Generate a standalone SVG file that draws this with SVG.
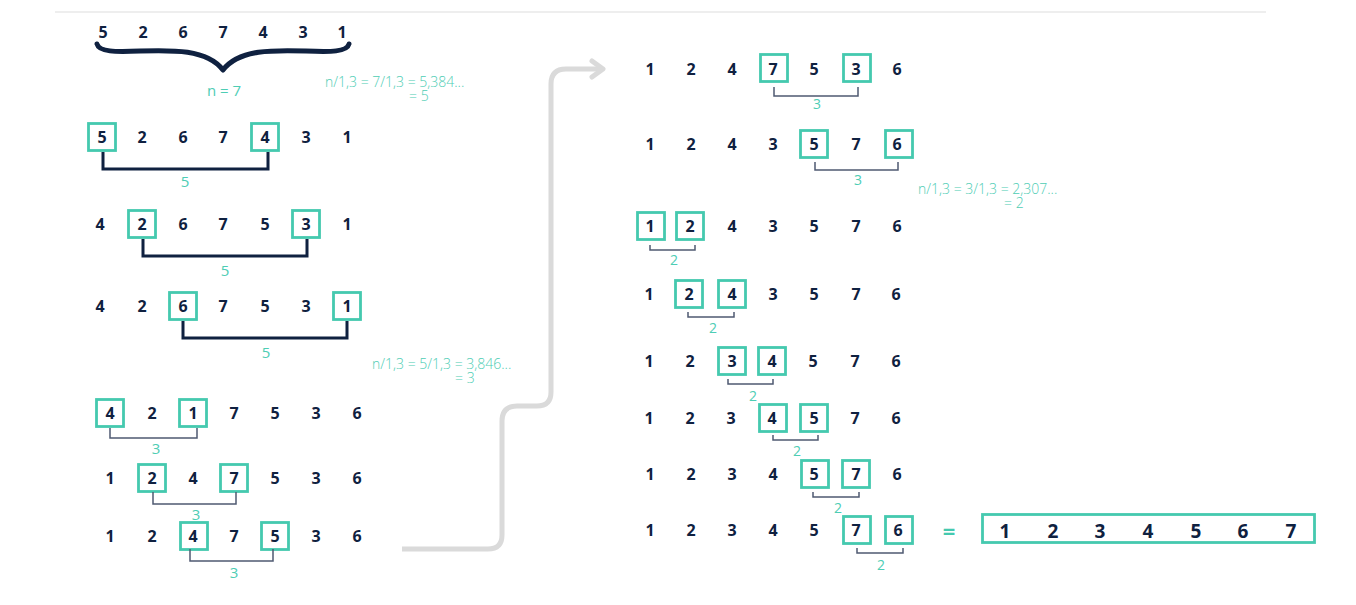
<svg xmlns="http://www.w3.org/2000/svg" width="1356" height="605" viewBox="0 0 1356 605">
<style>
.d{font-family:"Open Sans","Liberation Sans",sans-serif;font-weight:700;font-size:16px;fill:#0f2140;text-anchor:middle}
.r{font-family:"Open Sans","Liberation Sans",sans-serif;font-weight:700;font-size:19px;fill:#0f2140;text-anchor:middle}
.bx{fill:none;stroke:#45c9af;stroke-width:2.8}
.tk{fill:none;stroke:#0f2140;stroke-width:3}
.tn{fill:none;stroke:#4f5a72;stroke-width:1.5}
.l{font-family:"Open Sans","Liberation Sans",sans-serif;font-weight:400;font-size:15px;fill:#4ecdb4;text-anchor:middle}
.ls{font-family:"Open Sans","Liberation Sans",sans-serif;font-weight:400;font-size:14px;fill:#4ecdb4;text-anchor:middle}
.f{font-family:"Open Sans","Liberation Sans",sans-serif;font-weight:300;font-size:14px;fill:#4ecdb4}
</style>
<rect width="1356" height="605" fill="#ffffff"/>
<line x1="55" y1="12" x2="1266" y2="12" stroke="#dddddd" stroke-width="1"/>

<g id="row0">
<text class="d" x="103" y="38">5</text><text class="d" x="143" y="38">2</text><text class="d" x="183" y="38">6</text><text class="d" x="223" y="38">7</text><text class="d" x="263" y="38">4</text><text class="d" x="303" y="38">3</text><text class="d" x="342" y="38">1</text>
<path d="M97,44 C99,52 115,52 140,51 C172,50 207,49 223,70 C239,49 274,50 306,51 C331,52 347,52 349,44" fill="none" stroke="#0f2140" stroke-width="5" stroke-linecap="round" stroke-linejoin="round"/>
<text class="l" x="224" y="96">n = 7</text>
</g>
<g id="formula1">
<text class="f" x="325" y="87">n/1,3 = 7/1,3 = 5,384...</text>
<text class="f" x="409" y="101">= 5</text>
</g>

<g id="row1">
<text class="d" x="102" y="143">5</text><text class="d" x="142" y="143">2</text><text class="d" x="183" y="143">6</text><text class="d" x="223" y="143">7</text><text class="d" x="265" y="143">4</text><text class="d" x="306" y="143">3</text><text class="d" x="347" y="143">1</text>
<rect class="bx" x="88.5" y="123.5" width="27" height="27"/><rect class="bx" x="251.5" y="123.5" width="27" height="27"/>
<path class="tk" d="M103,152 V169 H268 V152"/>
<text class="l" x="185" y="187">5</text>
</g>

<g id="row2">
<text class="d" x="100" y="230">4</text><text class="d" x="142" y="230">2</text><text class="d" x="183" y="230">6</text><text class="d" x="223" y="230">7</text><text class="d" x="265" y="230">5</text><text class="d" x="306" y="230">3</text><text class="d" x="347" y="230">1</text>
<rect class="bx" x="128.5" y="210.5" width="27" height="27"/><rect class="bx" x="292.5" y="210.5" width="27" height="27"/>
<path class="tk" d="M143,239 V256 H307 V239"/>
<text class="l" x="225" y="276">5</text>
</g>

<g id="row3">
<text class="d" x="100" y="312">4</text><text class="d" x="142" y="312">2</text><text class="d" x="183" y="312">6</text><text class="d" x="223" y="312">7</text><text class="d" x="265" y="312">5</text><text class="d" x="306" y="312">3</text><text class="d" x="347" y="312">1</text>
<rect class="bx" x="169.5" y="292.5" width="27" height="27"/><rect class="bx" x="333.5" y="292.5" width="27" height="27"/>
<path class="tk" d="M183,321 V338 H347 V321"/>
<text class="l" x="266" y="358">5</text>
</g>
<g id="formula2">
<text class="f" x="372" y="369">n/1,3 = 5/1,3 = 3,846...</text>
<text class="f" x="455" y="383">= 3</text>
</g>

<g id="row4">
<text class="d" x="110" y="419">4</text><text class="d" x="152" y="419">2</text><text class="d" x="193" y="419">1</text><text class="d" x="234" y="419">7</text><text class="d" x="275" y="419">5</text><text class="d" x="316" y="419">3</text><text class="d" x="357" y="419">6</text>
<rect class="bx" x="96.5" y="399.5" width="27" height="27"/><rect class="bx" x="179.5" y="399.5" width="27" height="27"/>
<path class="tn" d="M110,428 V438 H197 V428"/>
<text class="l" x="156" y="454">3</text>
</g>

<g id="row5">
<text class="d" x="110" y="484">1</text><text class="d" x="152" y="484">2</text><text class="d" x="193" y="484">4</text><text class="d" x="234" y="484">7</text><text class="d" x="275" y="484">5</text><text class="d" x="316" y="484">3</text><text class="d" x="357" y="484">6</text>
<rect class="bx" x="138.5" y="464.5" width="27" height="27"/><rect class="bx" x="220.5" y="464.5" width="27" height="27"/>
<path class="tn" d="M153,492 V504 H236 V492"/>
<text class="l" x="196" y="520">3</text>
</g>

<g id="row6">
<text class="d" x="110" y="542">1</text><text class="d" x="152" y="542">2</text><text class="d" x="193" y="542">4</text><text class="d" x="234" y="542">7</text><text class="d" x="275" y="542">5</text><text class="d" x="316" y="542">3</text><text class="d" x="357" y="542">6</text>
<rect class="bx" x="180.5" y="522.5" width="27" height="27"/><rect class="bx" x="261.5" y="522.5" width="27" height="27"/>
<path class="tn" d="M190,549 V561 H273 V549"/>
<text class="l" x="234" y="578">3</text>
</g>

<g id="connectors">
<path d="M402,549 H488 Q502,549 502,535 V421 Q502,406 517,406 H537 Q551,406 551,392 V84 Q551,69 566,69 H603" fill="none" stroke="#dadada" stroke-width="5" stroke-linejoin="round"/>
<polyline points="592,61 603,69 592,77" fill="none" stroke="#dadada" stroke-width="5" stroke-linecap="round" stroke-linejoin="round"/>
</g>

<g id="rrow1">
<text class="d" x="650" y="75">1</text><text class="d" x="691" y="75">2</text><text class="d" x="732" y="75">4</text><text class="d" x="773" y="75">7</text><text class="d" x="814" y="75">5</text><text class="d" x="856" y="75">3</text><text class="d" x="897" y="75">6</text>
<rect class="bx" x="760.5" y="54.5" width="27" height="27"/><rect class="bx" x="843.5" y="54.5" width="27" height="27"/>
<path class="tn" d="M774,87 V96 H858 V87"/>
<text class="ls" x="817" y="109">3</text>
</g>

<g id="rrow2">
<text class="d" x="650" y="150">1</text><text class="d" x="691" y="150">2</text><text class="d" x="732" y="150">4</text><text class="d" x="773" y="150">3</text><text class="d" x="814" y="150">5</text><text class="d" x="856" y="150">7</text><text class="d" x="897" y="150">6</text>
<rect class="bx" x="800.5" y="130.5" width="27" height="27"/><rect class="bx" x="885.5" y="130.5" width="27" height="27"/>
<path class="tn" d="M815,162 V170 H898 V162"/>
<text class="ls" x="858" y="185">3</text>
</g>
<g id="formula3">
<text class="f" x="918" y="194">n/1,3 = 3/1,3 = 2,307...</text>
<text class="f" x="1004" y="208">= 2</text>
</g>

<g id="rrow3">
<text class="d" x="650" y="232">1</text><text class="d" x="690" y="232">2</text><text class="d" x="732" y="232">4</text><text class="d" x="773" y="232">3</text><text class="d" x="814" y="232">5</text><text class="d" x="856" y="232">7</text><text class="d" x="897" y="232">6</text>
<rect class="bx" x="637.5" y="212.5" width="27" height="27"/><rect class="bx" x="676.5" y="212.5" width="27" height="27"/>
<path class="tn" d="M650,245 V250 H695 V245"/>
<text class="ls" x="674" y="265">2</text>
</g>

<g id="rrow4">
<text class="d" x="649" y="300">1</text><text class="d" x="689" y="300">2</text><text class="d" x="732" y="300">4</text><text class="d" x="773" y="300">3</text><text class="d" x="814" y="300">5</text><text class="d" x="856" y="300">7</text><text class="d" x="896" y="300">6</text>
<rect class="bx" x="675.5" y="280.5" width="27" height="27"/><rect class="bx" x="718.5" y="280.5" width="27" height="27"/>
<path class="tn" d="M688,312 V317 H734 V312"/>
<text class="ls" x="713" y="333">2</text>
</g>

<g id="rrow5">
<text class="d" x="649" y="367">1</text><text class="d" x="690" y="367">2</text><text class="d" x="732" y="367">3</text><text class="d" x="772" y="367">4</text><text class="d" x="813" y="367">5</text><text class="d" x="855" y="367">7</text><text class="d" x="896" y="367">6</text>
<rect class="bx" x="718.5" y="347.5" width="27" height="27"/><rect class="bx" x="758.5" y="347.5" width="27" height="27"/>
<path class="tn" d="M728,379 V384 H773 V379"/>
<text class="ls" x="753" y="401">2</text>
</g>

<g id="rrow6">
<text class="d" x="649" y="424">1</text><text class="d" x="690" y="424">2</text><text class="d" x="731" y="424">3</text><text class="d" x="772" y="424">4</text><text class="d" x="814" y="424">5</text><text class="d" x="855" y="424">7</text><text class="d" x="896" y="424">6</text>
<rect class="bx" x="759.5" y="404.5" width="27" height="27"/><rect class="bx" x="800.5" y="404.5" width="27" height="27"/>
<path class="tn" d="M773,435 V440 H818 V435"/>
<text class="ls" x="797" y="456">2</text>
</g>

<g id="rrow7">
<text class="d" x="650" y="480">1</text><text class="d" x="691" y="480">2</text><text class="d" x="732" y="480">3</text><text class="d" x="773" y="480">4</text><text class="d" x="814" y="480">5</text><text class="d" x="856" y="480">7</text><text class="d" x="897" y="480">6</text>
<rect class="bx" x="801.5" y="460.5" width="27" height="27"/><rect class="bx" x="842.5" y="460.5" width="27" height="27"/>
<path class="tn" d="M813,492 V497 H859 V492"/>
<text class="ls" x="838" y="513">2</text>
</g>

<g id="rrow8">
<text class="d" x="650" y="536">1</text><text class="d" x="691" y="536">2</text><text class="d" x="732" y="536">3</text><text class="d" x="773" y="536">4</text><text class="d" x="814" y="536">5</text><text class="d" x="856" y="536">7</text><text class="d" x="898" y="536">6</text>
<rect class="bx" x="843.5" y="516.5" width="27" height="27"/><rect class="bx" x="885.5" y="516.5" width="27" height="27"/>
<path class="tn" d="M857,548 V553 H903 V548"/>
<text class="ls" x="881" y="570">2</text>
</g>

<g id="result">
<text x="949" y="539" style="font-family:'Open Sans','Liberation Sans',sans-serif;font-weight:700;font-size:22px;fill:#45c9af;text-anchor:middle">=</text>
<rect class="bx" x="982.5" y="514.5" width="332" height="28" stroke-width="3"/>
<text class="r" x="1005" y="538">1</text><text class="r" x="1053" y="538">2</text><text class="r" x="1100" y="538">3</text><text class="r" x="1148" y="538">4</text><text class="r" x="1196" y="538">5</text><text class="r" x="1243" y="538">6</text><text class="r" x="1291" y="538">7</text>
</g>
</svg>
